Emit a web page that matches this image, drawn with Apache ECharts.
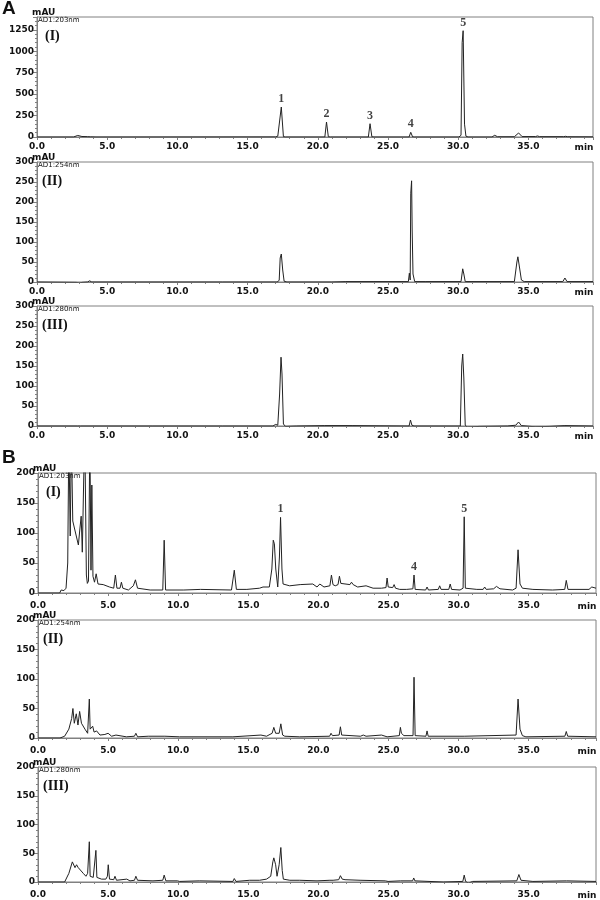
<!DOCTYPE html>
<html>
<head>
<meta charset="utf-8">
<script src="https://cdn.jsdelivr.net/npm/echarts@6/dist/echarts.min.js"></script>
<style>
html, body { margin: 0; padding: 0; background: #fff; }
#chart { width: 600px; height: 900px; }
</style>
</head>
<body>
<div id="chart"></div>
<script>
// chromatograms, [time (min), signal (mAU)]
var trace203A = [[0,0],[2.6,0],[2.9,18],[3.2,6],[3.6,4],[3.8,2],[4.2,0],[17.0,1],[17.15,10],[17.25,6],[17.4,350],[17.55,4],[17.7,0],
  [20.5,0],[20.62,175],[20.75,3],[20.9,0],[23.6,0],[23.72,155],[23.85,3],[24.0,0],[26.5,0],[26.62,55],[26.75,2],[26.9,0],
  [30.05,0],[30.2,20],[30.28,1100],[30.35,1240],[30.45,150],[30.55,10],[30.7,0],[32.4,0],[32.6,20],[32.8,3],[34.0,3],[34.3,47],
  [34.55,5],[35.5,5],[35.65,12],[35.8,4],[37.5,4],[37.65,8],[37.8,3],[39.6,2]];
var trace254A = [[0,0],[2.8,-1],[3.0,-3],[3.2,-1],[3.6,0],[3.75,3],[3.9,0],[5.9,0],[13.2,0],[17.1,0],[17.25,4],[17.32,60],[17.4,70],
  [17.5,30],[17.6,2],[17.8,0],[21.0,0],[22.0,1],[24.0,1],[26.45,1],[26.52,22],[26.58,5],[26.62,222],[26.68,253],[26.72,130],
  [26.78,20],[26.9,1],[27.7,1],[30.2,1],[30.32,33],[30.4,20],[30.5,1],[34.0,1],[34.18,50],[34.25,63],[34.35,40],[34.5,5],[34.7,1],
  [37.45,1],[37.6,10],[37.75,1],[39.6,1]];
var trace280A = [[0,0],[2.9,0],[3.0,2],[3.1,0],[8.2,0],[13.2,0],[16.8,0],[17.0,4],[17.15,2],[17.28,80],[17.38,172],[17.45,130],
  [17.55,5],[17.7,-1],[18.5,0],[20.5,1],[22.5,1],[26.5,0],[26.6,15],[26.7,2],[26.85,0],[30.15,0],[30.25,150],[30.32,180],[30.4,120],
  [30.5,2],[30.65,-3],[31.5,-1],[33.5,0],[34.1,2],[34.3,10],[34.5,1],[35.5,-2],[36.5,-1],[37.6,1],[39.6,0]];
var trace203B = [[0,0],[1.55,0],[1.65,5],[1.85,4],[2.0,8],[2.12,50],[2.2,260],[2.3,95],[2.38,260],[2.48,120],[2.58,110],[2.68,100],
  [2.78,90],[2.88,80],[2.98,105],[3.08,128],[3.16,68],[3.26,190],[3.34,260],[3.45,30],[3.52,16],[3.6,20],[3.7,260],[3.78,38],
  [3.84,180],[3.92,28],[4.03,18],[4.15,32],[4.28,15],[4.65,14],[5.1,10],[5.4,8],[5.52,30],[5.63,8],[5.85,8],[5.95,18],[6.05,8],
  [6.45,5],[6.8,12],[6.95,22],[7.1,8],[8.0,5],[8.9,5],[9.0,88],[9.1,5],[10.4,5],[11.6,6],[13.8,5],[14.0,38],[14.15,6],[14.9,6],
  [15.8,8],[16.05,10],[16.5,10],[16.68,40],[16.78,88],[16.86,82],[16.96,40],[17.1,10],[17.22,60],[17.3,126],[17.4,40],[17.48,15],
  [17.95,12],[18.7,14],[19.6,15],[19.9,10],[20.1,15],[20.4,10],[20.82,12],[20.93,30],[21.04,14],[21.2,12],[21.4,14],[21.5,28],
  [21.6,16],[21.7,15],[22.25,14],[22.36,18],[22.48,14],[22.6,15],[22.8,10],[23.4,12],[23.9,8],[24.5,8],[24.82,9],[24.9,25],
  [24.98,10],[25.3,9],[25.4,14],[25.5,8],[25.8,6],[26.3,6],[26.74,7],[26.82,30],[26.9,6],[27.65,5],[27.75,10],[27.85,5],
  [28.55,6],[28.65,12],[28.75,6],[29.3,6],[29.4,15],[29.5,6],[30.1,5],[30.32,8],[30.4,127],[30.48,8],[30.6,6],[31.3,6],[31.75,6],
  [31.86,10],[31.97,6],[32.5,7],[32.7,11],[32.95,7],[33.85,5],[34.1,8],[34.24,72],[34.38,15],[34.55,8],[35.3,6],[36.7,5],
  [37.57,6],[37.68,21],[37.8,6],[39.3,6],[39.5,10],[39.8,8]];
var trace254B = [[0,0],[1.57,0],[1.9,3],[2.2,15],[2.4,33],[2.49,50],[2.59,25],[2.73,41],[2.85,22],[2.97,45],[3.1,25],[3.35,15],
  [3.54,8],[3.62,10],[3.66,66],[3.72,15],[3.9,20],[4.0,10],[4.18,12],[4.42,5],[4.77,6],[5.0,8],[5.25,3],[5.56,5],[6.3,2],
  [6.88,3],[6.98,8],[7.1,2],[7.86,3],[9.05,3],[10.1,2],[13.9,2],[15.9,5],[16.3,3],[16.7,8],[16.82,18],[16.95,8],[17.05,5],
  [17.2,8],[17.32,24],[17.45,5],[17.6,3],[18.67,2],[20.8,3],[20.9,8],[21.0,4],[21.48,5],[21.57,19],[21.66,5],[21.8,5],[23.0,3],
  [23.2,5],[23.4,3],[24.5,5],[24.9,2],[25.77,4],[25.85,18],[25.92,8],[26.0,8],[26.1,4],[26.75,4],[26.82,103],[26.9,4],
  [27.67,3],[27.75,12],[27.83,3],[30.4,3],[34.1,5],[34.24,66],[34.38,15],[34.55,4],[34.8,2],[37.58,3],[37.68,11],[37.78,3],
  [39.8,2]];
var trace280B = [[0,0],[1.9,0],[2.2,15],[2.45,35],[2.64,25],[2.75,30],[2.87,25],[2.99,28],[3.23,15],[3.42,10],[3.54,15],[3.6,18],
  [3.66,70],[3.72,10],[3.94,8],[4.08,10],[4.13,55],[4.2,8],[4.53,5],[4.84,5],[4.95,10],[5.01,30],[5.1,5],[5.4,4],[5.49,10],
  [5.6,3],[6.33,5],[6.56,2],[6.88,3],[6.98,10],[7.1,3],[8.2,2],[8.9,3],[9.0,12],[9.12,2],[9.95,2],[10.0,5],[10.1,1],[11.5,2],
  [13.9,1],[14.0,6],[14.12,1],[15.1,3],[15.8,3],[16.3,5],[16.6,10],[16.75,35],[16.82,42],[16.95,30],[17.05,10],[17.2,30],
  [17.32,60],[17.42,20],[17.5,5],[17.96,3],[18.67,3],[19.9,2],[20.82,3],[20.93,6],[21.05,3],[21.45,4],[21.57,11],[21.7,5],
  [21.9,4],[22.97,3],[24.77,2],[24.87,5],[24.97,1],[25.85,2],[26.72,2],[26.8,7],[26.88,2],[28.9,0],[30.3,1],[30.4,12],[30.5,1],
  [30.7,-2],[31.0,1],[34.15,2],[34.3,13],[34.45,3],[35.3,1],[37.7,2],[39.8,1]];

// numbered peaks [time, apex, label]
var peaksA = [[17.4,350,'1'],[20.62,175,'2'],[23.72,155,'3'],[26.62,55,'4'],[30.35,1240,'5']];
var peaksB = [[17.3,126,'1'],[26.82,30,'4'],[30.4,127,'5']];

var panelNames = ['(I)', '(II)', '(III)', '(I)', '(II)', '(III)'];
var detectors = ['AD1:203nm', 'AD1:254nm', 'AD1:280nm', 'AD1:203nm', 'AD1:254nm', 'AD1:280nm'];

var panels = [
  {data: trace203A, peaks: peaksA, top: 17, bottom: 763, left: 37, right: 7, xMax: 39.6, yMax: 1400, yStep: 250, topLabel: false, gap: 5},
  {data: trace254A, top: 162, bottom: 618, left: 37, right: 7, xMax: 39.6, yMax: 300, yStep: 50, topLabel: true, gap: 5},
  {data: trace280A, top: 306, bottom: 474, left: 37, right: 7, xMax: 39.6, yMax: 300, yStep: 50, topLabel: true, gap: 5},
  {data: trace203B, peaks: peaksB, top: 473, bottom: 307, left: 38, right: 4, xMax: 39.8, yMax: 200, yStep: 50, topLabel: true, gap: 8},
  {data: trace254B, top: 620, bottom: 162, left: 38, right: 4, xMax: 39.8, yMax: 200, yStep: 50, topLabel: true, gap: 8},
  {data: trace280B, top: 767, bottom: 17, left: 38, right: 4, xMax: 39.8, yMax: 200, yStep: 50, topLabel: true, gap: 8}
];

var axisFont = {fontFamily: 'DejaVu Sans', fontWeight: 'bold', fontSize: 9, color: '#111'};
var lineGrey = '#808080';

var myChart = echarts.init(document.getElementById('chart'), null, {renderer: 'canvas'});

var grids = [], xAxes = [], yAxes = [], series = [], texts = [];

function txt(x, y, s, font) {
  return {type: 'text', x: x, y: y, silent: true,
    style: {text: s, font: font, fill: '#111', align: 'left', verticalAlign: 'middle'}};
}

panels.forEach(function (p, i) {
  grids.push({left: p.left, right: p.right, top: p.top, bottom: p.bottom,
    show: true, borderColor: lineGrey, borderWidth: 1, containLabel: false});
  xAxes.push({
    type: 'value', gridIndex: i, min: 0, max: p.xMax, interval: 5,
    name: 'min', nameLocation: 'end', nameGap: -9,
    nameTextStyle: Object.assign({align: 'center', verticalAlign: 'top', padding: [p.gap + 1, 0, 0, 0]}, axisFont),
    axisLine: {onZero: false, lineStyle: {color: lineGrey}},
    axisTick: {length: 3, lineStyle: {color: lineGrey}},
    minorTick: {show: true, splitNumber: 5, length: 2, lineStyle: {color: lineGrey}},
    axisLabel: Object.assign({margin: p.gap, showMaxLabel: false, formatter: function (v) { return v.toFixed(1); }}, axisFont),
    splitLine: {show: false}
  });
  yAxes.push({
    type: 'value', gridIndex: i, min: 0, max: p.yMax, interval: p.yStep,
    axisLine: {show: true, lineStyle: {color: lineGrey}},
    axisTick: {length: 4, lineStyle: {color: lineGrey}},
    minorTick: {show: true, splitNumber: 5, length: 2, lineStyle: {color: lineGrey}},
    axisLabel: Object.assign({margin: 3, showMaxLabel: p.topLabel, formatter: function (v) { return String(v); }}, axisFont),
    splitLine: {show: false}
  });
  series.push({
    type: 'line', xAxisIndex: i, yAxisIndex: i, data: p.data,
    symbol: 'none', clip: true,
    lineStyle: {color: '#222', width: 1}
  });
  if (p.peaks) {
    series.push({
      type: 'scatter', xAxisIndex: i, yAxisIndex: i, data: p.peaks,
      symbolSize: 0, silent: true,
      label: {show: true, position: 'top', distance: 2,
        formatter: function (d) { return d.value[2]; },
        fontFamily: 'Liberation Serif', fontWeight: 'bold', fontSize: 12, color: '#111'}
    });
  }
  // per-panel captions
  var top = p.top;
  texts.push(txt(p.left - 5, top - 4, 'mAU', 'bold 9px "DejaVu Sans"'));
  texts.push(txt(p.left + 1, top + 3, detectors[i], '7px "DejaVu Sans"'));
  texts.push(txt(p.left + (i % 3 === 0 ? 8 : 5), top + 19, panelNames[i], 'bold 14px "Liberation Serif"'));
});

texts.push(txt(2, 9, 'A', 'bold 19px "Liberation Sans"'));
texts.push(txt(2, 458, 'B', 'bold 19px "Liberation Sans"'));

myChart.setOption({
  animation: false,
  backgroundColor: '#fff',
  grid: grids,
  xAxis: xAxes,
  yAxis: yAxes,
  series: series,
  graphic: texts
});
</script>
</body>
</html>
